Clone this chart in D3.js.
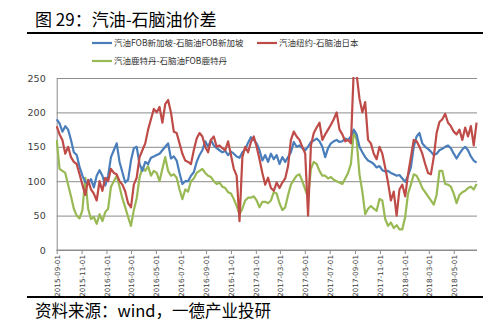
<!DOCTYPE html>
<html><head><meta charset="utf-8">
<script src="https://cdn.jsdelivr.net/npm/d3@7"></script>
<style>body{margin:0;background:#fff;} svg{display:block;font-family:"Noto Sans CJK SC","Noto Sans",sans-serif;}</style>
</head><body><svg id="c" width="500" height="336"></svg>
<script>
// ---- data (weekly readings, starting 2015-09-01) ----
const seriesNames = ["汽油FOB新加坡-石脑油FOB新加坡", "汽油纽约-石脑油日本", "汽油鹿特丹-石脑油FOB鹿特丹"];
const seriesColors = ["#4A7EBB", "#BE4B48", "#98B954"];
const startDate = new Date(2015, 8, 1);
const endDate = new Date(2018, 5, 27);
const singaporeSpread = [
  190,184,172,180,175,160,142,138,121,108,99,96,103,91,108,116,108,94,108,135,145,155,128,113,98,102,
  130,148,150,125,115,128,125,134,136,138,140,145,150,155,133,136,130,112,96,100,100,108,113,128,138,
  145,158,150,160,152,148,145,142,144,138,143,140,136,134,142,146,156,
  164,160,155,
  145,130,138,128,140,132,138,125,135,128,135,142,157,150,152,148,145,150,157,159,162,158,150,135,148,
  155,158,160,157,158,162,160,165,175,168,150,142,135,130,128,125,120,122,116,114,115,112,110,108,109,104,99,108,120,150,
  165,170,155,150,147,143,138,140,145,147,150,152,148,140,133,140,146,150,145,136,130,127
];
const newYorkSpread = [
  180,168,160,140,150,135,128,125,110,95,80,102,88,82,72,100,86,105,100,118,112,110,100,95,85,68,
  62,95,105,135,145,155,175,190,205,200,208,185,212,218,200,172,170,155,140,130,128,125,145,162,170,
  165,150,142,160,165,150,152,148,145,158,138,118,108,42,135,150,142,157,165,150,132,112,95,105,90,86,
  98,90,98,104,122,160,172,165,160,150,140,50,152,170,178,185,160,168,175,182,190,200,175,168,158,160,155,
  262,255,220,200,215,160,155,140,132,150,140,120,98,72,85,50,88,95,78,110,135,160,158,150,140,125,112,110,
  135,170,186,190,198,185,180,172,168,175,160,178,165,180,152,185
];
const rotterdamSpread = [
  160,118,115,112,95,78,60,50,46,58,105,60,45,48,38,52,42,55,60,92,100,108,92,75,62,48,
  35,58,75,105,120,115,122,108,115,112,100,118,135,115,108,110,105,88,74,88,85,100,104,112,115,
  118,112,108,106,100,96,98,92,90,84,82,74,64,52,60,72,76,76,78,72,62,70,70,68,72,84,
  82,68,58,62,80,95,102,108,110,100,88,76,118,128,125,115,108,108,104,106,102,100,98,96,104,112,125,
  172,160,110,85,52,60,64,60,57,74,72,45,35,40,32,36,30,30,48,82,95,110,108,100,90,84,78,72,66,80,
  115,115,96,95,92,82,68,80,84,86,90,92,88,96
];
const tickLabels = ["2015-09-01","2015-11-01","2016-01-01","2016-03-01","2016-05-01","2016-07-01","2016-09-01","2016-11-01","2017-01-01","2017-03-01","2017-05-01","2017-07-01","2017-09-01","2017-11-01","2018-01-01","2018-03-01","2018-05-01"];
const yTicks = [0, 50, 100, 150, 200, 250];

// ---- drawing ----
const svg = d3.select("#c");
const parse = d3.timeParse("%Y-%m-%d");
const fmt = d3.timeFormat("%Y-%m-%d");
const weekDates = d3.range(singaporeSpread.length).map(i => d3.timeDay.offset(startDate, 7 * i));

const x = d3.scaleTime().domain([startDate, endDate]).range([56.7, 477]);
const y = d3.scaleLinear().domain([0, 250]).range([250, 78]);

// title
svg.append("text").attr("x", 35).attr("y", 26).attr("font-size", 17).attr("fill", "#000").text("图 29：汽油-石脑油价差");
svg.append("line").attr("x1", 27).attr("x2", 483).attr("y1", 33).attr("y2", 33).attr("stroke", "#000").attr("stroke-width", 2);

// y axis with grid
const yAxis = svg.append("g").attr("transform", "translate(56.7,0)")
  .call(d3.axisLeft(y).tickValues(yTicks).tickSize(-(477 - 56.7)).tickPadding(11).tickFormat(d3.format("d")));
yAxis.select(".domain").attr("stroke", "#8c8c8c");
yAxis.selectAll(".tick line").attr("stroke", "#8c8c8c").attr("stroke-width", 1);
yAxis.selectAll(".tick text").attr("font-size", 9.5).attr("fill", "#404040").attr("font-family", "'DejaVu Sans',sans-serif");

// x axis
const xAxis = svg.append("g").attr("transform", "translate(0,250)")
  .call(d3.axisBottom(x).tickValues(tickLabels.map(parse)).tickSize(4).tickFormat(fmt));
xAxis.select(".domain").attr("stroke", "#8c8c8c").attr("d", "M56.7,0H477");
xAxis.selectAll(".tick line").attr("stroke", "#8c8c8c");
xAxis.selectAll(".tick text")
  .attr("font-size", 7.2).attr("fill", "#404040").attr("font-family", "'DejaVu Sans',sans-serif")
  .attr("transform", "rotate(-90)").attr("text-anchor", "end")
  .attr("x", -5).attr("y", 0).attr("dy", "0.35em");

// clip
svg.append("clipPath").attr("id", "plot").append("rect").attr("x", 56).attr("y", 77).attr("width", 422).attr("height", 174);

const line = d3.line().x((d, i) => x(weekDates[i])).y(d => y(d));
const allSeries = [singaporeSpread, newYorkSpread, rotterdamSpread];
const drawOrder = [2, 0, 1];
const g = svg.append("g").attr("clip-path", "url(#plot)");
drawOrder.forEach(si => {
  g.append("path").datum(allSeries[si]).attr("d", line)
    .attr("fill", "none").attr("stroke", seriesColors[si]).attr("stroke-width", 2.2).attr("stroke-linejoin", "round");
});

// legend
const legendPos = [[92, 43], [257, 43], [92, 61]];
seriesNames.forEach((name, i) => {
  const [lx, ly] = legendPos[i];
  svg.append("line").attr("x1", lx).attr("x2", lx + 20).attr("y1", ly).attr("y2", ly).attr("stroke", seriesColors[i]).attr("stroke-width", 2.2);
  svg.append("text").attr("x", lx + 22).attr("y", ly + 3).attr("font-size", 8.5).attr("fill", "#333").text(name);
});

// source
svg.append("line").attr("x1", 27).attr("x2", 483).attr("y1", 297).attr("y2", 297).attr("stroke", "#000").attr("stroke-width", 2.2);
svg.append("text").attr("x", 35).attr("y", 317).attr("font-size", 16.5).attr("fill", "#000").text("资料来源：wind，一德产业投研");
</script></body></html>
